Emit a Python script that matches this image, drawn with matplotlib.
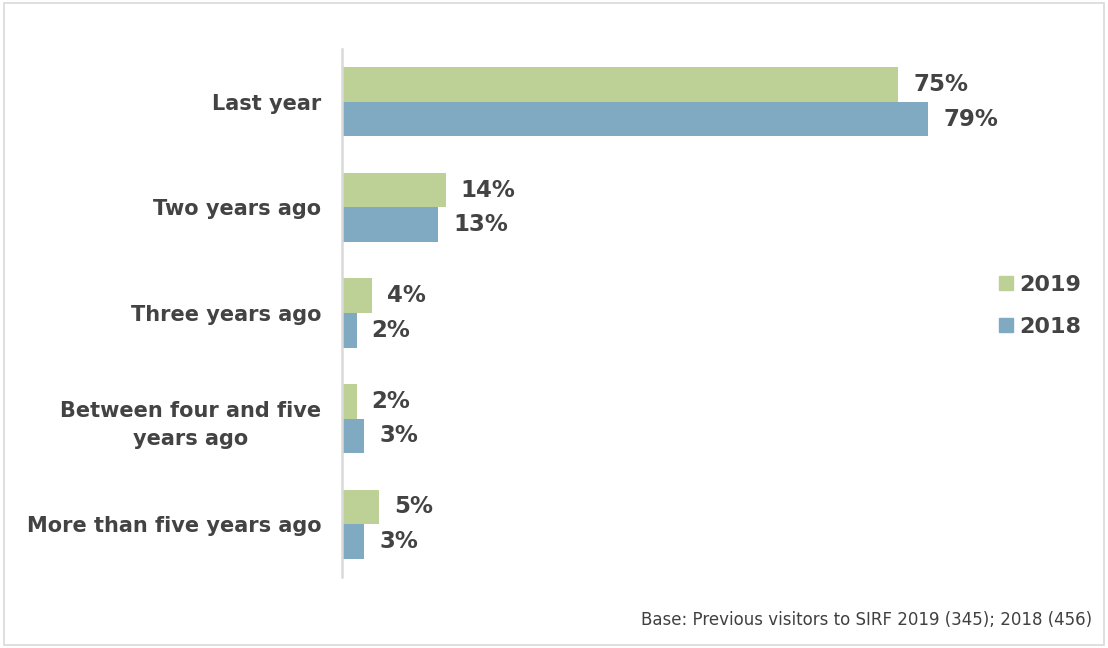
import numpy as np
import matplotlib
matplotlib.use("Agg")
import matplotlib.pyplot as plt
from matplotlib.patches import Rectangle, Patch

categories = ["Last year", "Two years ago", "Three years ago",
              "Between four and five\nyears ago", "More than five years ago"]
vals_2019 = [75, 14, 4, 2, 5]
vals_2018 = [79, 13, 2, 3, 3]
series_names = ["2019", "2018"]
footnote = "Base: Previous visitors to SIRF 2019 (345); 2018 (456)"

green = "#bdd197"
blue = "#7faac1"
text_col = "#434343"

plt.rcParams['font.family'] = ['DejaVu Sans']

fig = plt.figure(figsize=(11.08, 6.48), dpi=100)
ax = fig.add_axes([342 / 1108, 1 - 577 / 648, 640 / 1108, 528 / 648])

y = np.arange(len(categories))
h = 0.327
ax.barh(y - h / 2, vals_2019, height=h, color=green, label=series_names[0])
ax.barh(y + h / 2, vals_2018, height=h, color=blue, label=series_names[1])

# value labels next to each bar
for i in range(len(categories)):
    ax.text(vals_2019[i] + 2.0, y[i] - h / 2, f"{vals_2019[i]}%", va="center", ha="left",
            fontsize=16.5, fontweight="bold", color=text_col)
    ax.text(vals_2018[i] + 2.0, y[i] + h / 2, f"{vals_2018[i]}%", va="center", ha="left",
            fontsize=16.5, fontweight="bold", color=text_col)

ax.set_xlim(0, 640 / 7.42)
ax.set_ylim(len(categories) - 0.5, -0.5)
ax.set_yticks(y)
ax.set_yticklabels(categories, fontsize=15, fontweight="bold", color=text_col)
for lbl in ax.get_yticklabels():
    lbl.set_multialignment("center")
    lbl.set_linespacing(1.55)
ax.tick_params(axis="y", length=0, pad=15)
ax.set_xticks([])
for s in ["top", "right", "bottom"]:
    ax.spines[s].set_visible(False)
ax.spines["left"].set_color("#d9d9d9")
ax.spines["left"].set_linewidth(1.8)

handles = [Patch(color=green), Patch(color=blue)]
leg = fig.legend(handles, series_names, loc="center left", bbox_to_anchor=(979 / 1108, 1 - 306 / 648),
                 frameon=False, handlelength=0.62, handleheight=0.62, handletextpad=0.3,
                 labelspacing=1.0, prop={"size": 16, "weight": "bold"})
for t in leg.get_texts():
    t.set_color(text_col)

fig.text(1092 / 1108, 1 - 620 / 648, footnote, ha="right", va="center",
         fontsize=12, color="#404040")

# thin frame around the whole chart
fig.patches.append(Rectangle((4 / 1108, 3 / 648), 1100 / 1108, 642 / 648,
                             transform=fig.transFigure, fill=False,
                             edgecolor="#d9d9d9", linewidth=1.2))

fig.savefig("out.png", dpi=100)
